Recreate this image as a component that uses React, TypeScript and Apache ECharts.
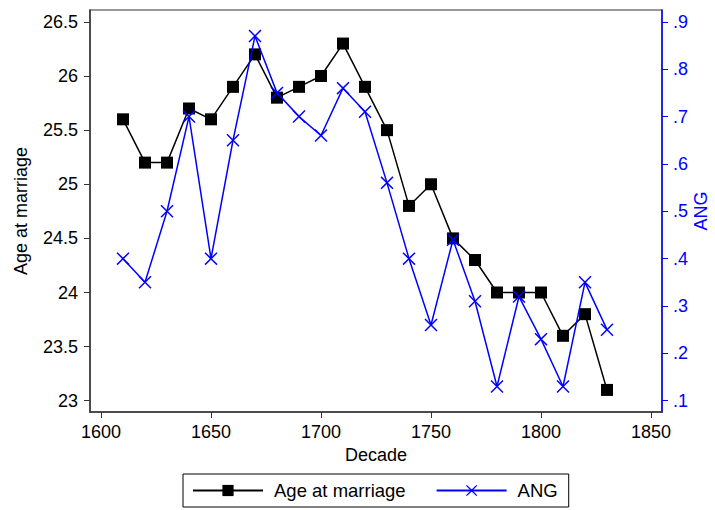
import React, { useEffect, useRef } from "react";
import * as echarts from "echarts";

const decades = [1610, 1620, 1630, 1640, 1650, 1660, 1670, 1680, 1690, 1700, 1710, 1720, 1730, 1740, 1750, 1760, 1770, 1780, 1790, 1800, 1810, 1820, 1830];
const ageAtMarriage = [25.6, 25.2, 25.2, 25.7, 25.6, 25.9, 26.2, 25.8, 25.9, 26.0, 26.3, 25.9, 25.5, 24.8, 25.0, 24.5, 24.3, 24.0, 24.0, 24.0, 23.6, 23.8, 23.1];
const ang = [0.40, 0.35, 0.50, 0.70, 0.40, 0.65, 0.87, 0.75, 0.70, 0.66, 0.76, 0.71, 0.56, 0.40, 0.26, 0.44, 0.31, 0.13, 0.32, 0.23, 0.13, 0.35, 0.25];
const xTicks = [1600, 1650, 1700, 1750, 1800, 1850];
const leftTicks = [23, 23.5, 24, 24.5, 25, 25.5, 26, 26.5];
const rightTicks = [0.1, 0.2, 0.3, 0.4, 0.5, 0.6, 0.7, 0.8, 0.9];

const FONT = "Liberation Sans";
const X_PATH = "path://M0,8L8,0L50,42L92,0L100,8L58,50L100,92L92,100L50,58L8,100L0,92L42,50Z";

export default function App() {
  const ref = useRef<HTMLDivElement>(null);
  useEffect(() => {
    if (!ref.current) return;
    const chart = echarts.init(ref.current, undefined, { renderer: "svg" });
    chart.setOption({
      animation: false,
      backgroundColor: "#fff",
      textStyle: { fontFamily: FONT },
      grid: {
        left: 90, right: 53, top: 10, bottom: 98,
        outerBoundsMode: "none", containLabel: false,
        show: true, borderColor: "#777", borderWidth: 1.5, backgroundColor: "#fff",
      },
      legend: {
        left: 183, top: 474, width: 400,
        orient: "horizontal",
        borderColor: "#000", borderWidth: 1, padding: [7, 11, 7, 9],
        itemWidth: 70, itemHeight: 14, itemGap: 30,
        textStyle: { fontFamily: FONT, fontSize: 18.5, color: "#000", padding: [0, 0, 0, 6] },
        data: ["Age at marriage", "ANG"],
      },
      xAxis: {
        type: "value", min: 1595, max: 1855,
        name: "Decade", nameLocation: "middle", nameGap: 31,
        nameTextStyle: { fontFamily: FONT, fontSize: 18, color: "#000" },
        axisLine: { show: true, lineStyle: { color: "#333", width: 1.5 } },
        axisTick: { show: true, length: 6, customValues: xTicks, lineStyle: { color: "#333" } },
        axisLabel: { customValues: xTicks, fontFamily: FONT, fontSize: 18, color: "#000", margin: 11,
          formatter: (v: number) => String(v) },
        splitLine: { show: false },
      },
      yAxis: [
        {
          type: "value", min: 22.896, max: 26.61, position: "left",
          name: "Age at marriage", nameLocation: "middle", nameGap: 60,
          nameTextStyle: { fontFamily: FONT, fontSize: 18, color: "#000" },
          axisLine: { show: true, lineStyle: { color: "#333", width: 1.5 } },
          axisTick: { show: true, length: 6, customValues: leftTicks, lineStyle: { color: "#333" } },
          axisLabel: { customValues: leftTicks, fontFamily: FONT, fontSize: 18, color: "#000", margin: 12,
            formatter: (v: number) => String(v) },
          splitLine: { show: false },
        },
        {
          type: "value", min: 0.0762, max: 0.925, position: "right",
          name: "ANG", nameLocation: "middle", nameGap: 30, nameMoveOverlap: false,
          nameTextStyle: { fontFamily: FONT, fontSize: 18, lineHeight: 18, color: "#0000ff" },
          axisLine: { show: true, lineStyle: { color: "#0000ff", width: 1.5 } },
          axisTick: { show: true, length: 6, customValues: rightTicks, lineStyle: { color: "#0000ff" } },
          axisLabel: { customValues: rightTicks, fontFamily: FONT, fontSize: 18, color: "#0000ff", margin: 11,
            formatter: (v: number) => v.toFixed(1).replace(/^0/, "") },
          splitLine: { show: false },
        },
      ],
      series: [
        {
          name: "Age at marriage", type: "line", yAxisIndex: 0,
          data: decades.map((d, i) => [d, ageAtMarriage[i]]),
          symbol: "rect", symbolSize: 12, showAllSymbol: true,
          lineStyle: { color: "#000", width: 1.5 },
          itemStyle: { color: "#000" },
          z: 3,
        },
        {
          name: "ANG", type: "line", yAxisIndex: 1,
          data: decades.map((d, i) => [d, ang[i]]),
          symbol: X_PATH, symbolSize: 13, showAllSymbol: true,
          lineStyle: { color: "#0000ff", width: 1.5 },
          itemStyle: { color: "#0000ff" },
          z: 4,
        },
      ],
    });
    return () => chart.dispose();
  }, []);
  return <div ref={ref} style={{ width: 715, height: 510, position: "absolute", left: 0, top: 0 }} />;
}
